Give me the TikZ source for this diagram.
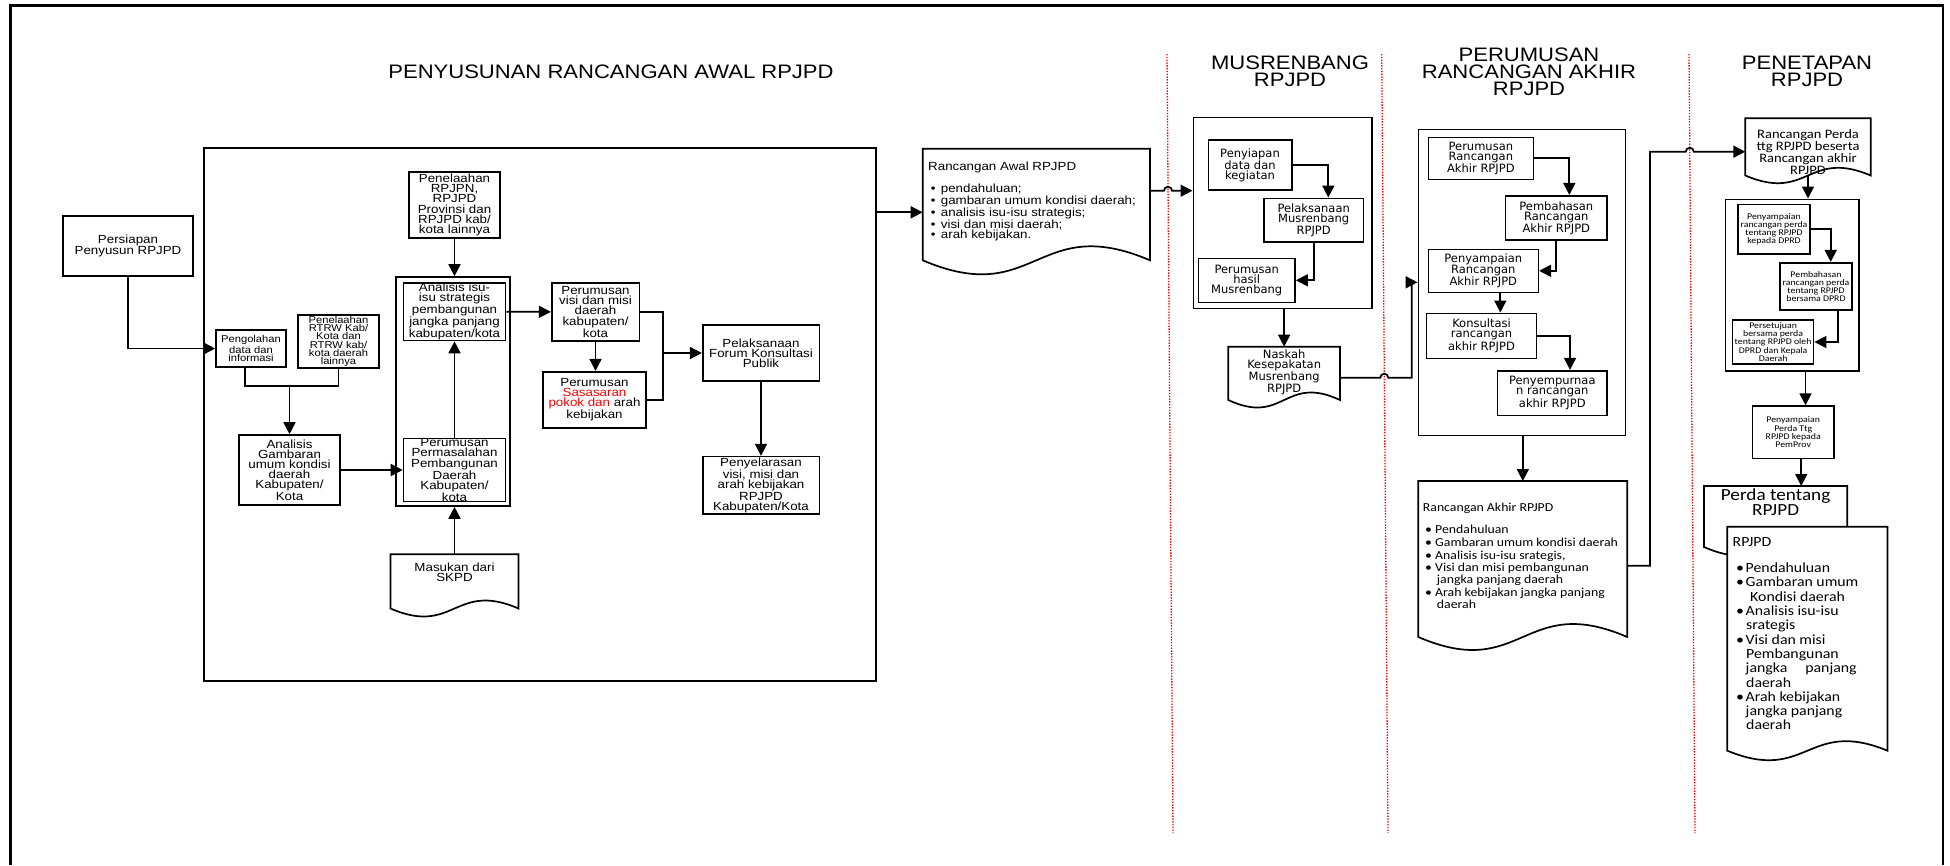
\documentclass[tikz,border=0pt]{standalone}
\usepackage{fontspec}
\newfontfamily\arialf[FakeStretch=1.13]{Liberation Sans}
\newfontfamily\verdf{DejaVu Sans}
\newfontfamily\calf[FakeStretch=1.13]{Carlito}
\usetikzlibrary{calc,arrows.meta}

% outline of a document shape around a named node
\newcommand{\dokumen}[3][]{%
  \draw[garis,#1] (#2.north west) -- (#2.north east) -- (#2.south east)
    .. controls ($(#2.south)+(0pt,#3)$) and ($(#2.south)+(0pt,-#3)$) .. (#2.south west) -- cycle;}

\tikzset{
  kotak/.style={draw, line width=1.6pt, align=center, inner sep=0pt},
  arial/.style={font=\arialf\fontsize{11.8pt}{10.2pt}\selectfont},
  arialkecil/.style={font=\arialf\fontsize{9.9pt}{8.3pt}\selectfont},
  verd/.style={font=\verdf\fontsize{11.5pt}{10pt}\selectfont},
  calkecil/.style={font=\calf\fontsize{8.7pt}{8.2pt}\selectfont},
  judul/.style={align=center, font=\arialf\fontsize{19.5pt}{17pt}\selectfont},
  docu/.style={inner sep=0pt, outer sep=0pt},
  isi/.style={inner sep=0pt, align=left},
  garis/.style={line width=1.7pt},
  panah/.style={garis, -{Triangle[length=12pt,width=12pt]}},
  titik/.style={red, line width=1.3pt, dash pattern=on 1.4pt off 1.4pt}
}

\begin{document}
\begin{tikzpicture}[x=1pt,y=-1pt]
\useasboundingbox (0,0) rectangle (1950,865);
\draw[line width=2.5pt] (10.5,865) -- (10.5,5.5) -- (1943,5.5) -- (1943,865);

% judul tahap
\node[judul] (j1) at (611,72) {PENYUSUNAN RANCANGAN AWAL RPJPD};
\node[judul] (j2) at (1290,71.7) {MUSRENBANG\\RPJPD};
\node[judul] (j3) at (1529,72) {PERUMUSAN\\RANCANGAN AKHIR\\RPJPD};
\node[judul] (j4) at (1807,71) {PENETAPAN\\RPJPD};

% batas tahap
\draw[titik] (1167,54) -- (1173,833);
\draw[titik] (1381.7,54) -- (1388,833);
\draw[titik] (1689,54) -- (1695,833);

% penyusunan rancangan awal
\node[kotak, minimum width=672pt, minimum height=533pt] (penyusunan) at (540,414.5) {};
\node[kotak, arial, minimum width=130pt, minimum height=60pt] (persiapan) at (128,246) {Persiapan\\Penyusun RPJPD};
\node[kotak, arial, minimum width=91pt, minimum height=66pt] (telaah) at (454.5,205) {Penelaahan\\RPJPN,\\RPJPD\\Provinsi dan\\RPJPD kab/\\kota lainnya};
\node[kotak, minimum width=114pt, minimum height=229pt] (grup) at (453,391.5) {};
\node[kotak, arial, minimum width=102pt, minimum height=57.5pt] (isu) at (454.5,311.75) {Analisis isu-\\isu strategis\\pembangunan\\jangka panjang\\kabupaten/kota};
\node[kotak, arial, minimum width=102pt, minimum height=62pt] (masalah) at (454.5,470) {Perumusan\\Permasalahan\\Pembangunan\\Daerah\\Kabupaten/\\kota};
\node[kotak, arialkecil, minimum width=70pt, minimum height=37pt] (olah) at (251,348.5) {Pengolahan\\data dan\\informasi};
\node[kotak, arialkecil, minimum width=81pt, minimum height=53pt] (rtrw) at (338.5,341.5) {Penelaahan\\RTRW Kab/\\Kota dan\\RTRW kab/\\kota daerah\\lainnya};
\node[kotak, arial, minimum width=101pt, minimum height=70pt] (gambaran) at (289.5,470) {Analisis\\Gambaran\\umum kondisi\\daerah\\Kabupaten/\\Kota};
\node[kotak, arial, minimum width=87.6pt, minimum height=57.7pt] (visi) at (595.5,311.85) {Perumusan\\visi dan misi\\daerah\\kabupaten/\\kota};
\node[kotak, arial, minimum width=103pt, minimum height=56pt] (sasaran) at (594.5,399.7) {Perumusan\\\textcolor{red}{Sasasaran}\\\textcolor{red}{pokok dan} arah\\kebijakan};
\node[kotak, arial, minimum width=116.6pt, minimum height=56pt] (forum) at (761,353) {Pelaksanaan\\Forum Konsultasi\\Publik};
\node[kotak, arial, minimum width=116.6pt, minimum height=57.3pt] (selaras) at (761,485.3) {Penyelarasan\\visi, misi dan\\arah kebijakan\\RPJPD\\Kabupaten/Kota};
\node[docu, minimum width=128pt, minimum height=54.2pt] (skpd) at (454.5,581.4) {};
\dokumen{skpd}{27.7pt}
\node[isi, align=center, arial, anchor=north] (skpd-isi) at ($(skpd.north)+(0pt,-8pt)$) {Masukan dari\\SKPD};

\draw[panah] (persiapan.south) |- (olah.west);
\coordinate (gabung) at (289.5,386);
\draw[garis] ([xshift=-6pt]olah.south) |- (gabung) -| (rtrw.south);
\draw[panah] (gabung) -- (gambaran.north);
\draw[panah] (telaah.south) -- (telaah.south |- grup.north);
\draw[panah] (gambaran.east) -- (masalah.west);
\draw[panah] (masalah.north) -- (isu.south);
\draw[panah] (skpd.north) -- (skpd.north |- grup.south);
\draw[panah] (isu.east) -- (visi.west);
\draw[panah] (visi.south) -- (visi.south |- sasaran.north);
\coordinate (cabang) at (662.7,353);
\draw[garis] (visi.east) -| (cabang) |- (sasaran.east);
\draw[panah] (cabang) -- (forum.west);
\draw[panah] (forum.south) -- (selaras.north);

% rancangan awal
\node[docu, minimum width=227.3pt, minimum height=111.6pt] (ra) at (1036.35,204.5) {};
\dokumen{ra}{48.5pt}
\node[isi, arial, anchor=north west] (ra-isi) at ($(ra.north west)+(5.3pt,-12.9pt)$) {Rancangan Awal RPJPD\\[10.2pt]
\hspace*{2.7pt}\makebox[10pt][l]{\textbullet}pendahuluan;\\
\hspace*{2.7pt}\makebox[10pt][l]{\textbullet}gambaran umum kondisi daerah;\\
\hspace*{2.7pt}\makebox[10pt][l]{\textbullet}analisis isu-isu strategis;\\
\hspace*{2.7pt}\makebox[10pt][l]{\textbullet}visi dan misi daerah;\\
\hspace*{2.7pt}\makebox[10pt][l]{\textbullet}arah kebijakan.};
\coordinate (k1) at (0,212.3);
\draw[panah] (penyusunan.east |- k1) -- (ra.west |- k1);

% musrenbang
\node[kotak, minimum width=178.7pt, minimum height=191pt] (musbox) at (1282.65,212.8) {};
\node[kotak, verd, minimum width=83.4pt, minimum height=50pt] (siap) at (1250,165) {Penyiapan\\data dan\\kegiatan};
\node[kotak, verd, minimum width=99.3pt, minimum height=43.4pt] (laksana) at (1313.7,220) {Pelaksanaan\\Musrenbang\\RPJPD};
\node[kotak, verd, minimum width=96.7pt, minimum height=44pt] (hasil) at (1246.7,280.3) {Perumusan\\hasil\\Musrenbang};
\node[docu, minimum width=111.7pt, minimum height=53.3pt] (naskah) at (1284.15,373.35) {};
\dokumen{naskah}{26pt}
\node[isi, align=center, verd, anchor=north] (naskah-isi) at ($(naskah.north)+(0pt,-2.8pt)$) {Naskah\\Kesepakatan\\Musrenbang\\RPJPD};

\coordinate (k2) at (0,190.7);
\coordinate (h1) at (1168,190.7);
\draw[panah] (ra.east |- k2) -- ($(h1)+(-4pt,0pt)$) arc[start angle=180, end angle=0, radius=4pt] -- (musbox.west |- k2);
\draw[panah] (siap.east) -| ([xshift=14.6pt]laksana.north);
\draw[panah] (laksana.south) |- (hasil.east);
\draw[panah] (naskah.north |- musbox.south) -- (naskah.north);

% perumusan rancangan akhir
\node[kotak, minimum width=207pt, minimum height=306pt] (akhirbox) at (1521.85,282.4) {};
\node[kotak, verd, minimum width=105pt, minimum height=42pt] (rumus) at (1480.85,158.3) {Perumusan\\Rancangan\\Akhir RPJPD};
\node[kotak, verd, minimum width=101.8pt, minimum height=44.3pt] (bahas) at (1556.3,217.85) {Pembahasan\\Rancangan\\Akhir RPJPD};
\node[kotak, verd, minimum width=110pt, minimum height=43pt] (sampai) at (1483.3,270.8) {Penyampaian\\Rancangan\\Akhir RPJPD};
\node[kotak, verd, minimum width=110pt, minimum height=45pt] (konsul) at (1481.5,335.8) {Konsultasi\\rancangan\\akhir RPJPD};
\node[kotak, verd, minimum width=109.5pt, minimum height=44.6pt] (sempurna) at (1552.3,393) {Penyempurnaa\\n rancangan\\akhir RPJPD};
\node[docu, minimum width=209pt, minimum height=156pt] (rakhir) at (1522.8,559) {};
\dokumen{rakhir}{45pt}
\node[isi, font=\calf\fontsize{12.2pt}{11.6pt}\selectfont, anchor=north west] (rakhir-isi) at ($(rakhir.north west)+(4.4pt,-22.1pt)$) {Rancangan Akhir RPJPD\\[10pt]
\hspace*{2.3pt}\makebox[10pt][l]{\textbullet}Pendahuluan\\[1.6pt]
\hspace*{2.3pt}\makebox[10pt][l]{\textbullet}Gambaran umum kondisi daerah\\[1.4pt]
\hspace*{2.3pt}\makebox[10pt][l]{\textbullet}Analisis isu-isu srategis,\\[0.4pt]
\hspace*{2.3pt}\makebox[10pt][l]{\textbullet}Visi dan misi pembangunan\\
\hspace*{14pt}jangka panjang daerah\\[1.8pt]
\hspace*{2.3pt}\makebox[10pt][l]{\textbullet}Arah kebijakan jangka panjang\\
\hspace*{14pt}daerah};

\coordinate (k3) at (0,377.7);
\coordinate (h2) at (1384.3,377.7);
\coordinate (b2) at (1411.7,282.3);
\draw[panah] (naskah.east |- k3) -- ($(h2)+(-4pt,0pt)$) arc[start angle=180, end angle=0, radius=4pt] -- (b2 |- k3) -- (b2) -- (akhirbox.west |- b2);
\draw[panah] (rumus.east) -| ([xshift=13pt]bahas.north);
\draw[panah] (bahas.south) |- (sampai.east);
\draw[panah] ([xshift=17pt]sampai.south) -- ([xshift=17pt]sampai.south |- konsul.north);
\draw[panah] (konsul.east) -| ([xshift=17.7pt]sempurna.north);
\draw[panah] (rakhir.north |- akhirbox.south) -- (rakhir.north);

% penetapan
\node[docu, minimum width=125.4pt, minimum height=57.2pt] (perdaR) at (1808,146.9) {};
\dokumen{perdaR}{26.7pt}
\node[isi, align=center, font=\calf\fontsize{12.9pt}{10.4pt}\selectfont, anchor=north] (perdaR-isi) at ($(perdaR.north)+(0pt,-10.8pt)$) {Rancangan Perda\\ttg RPJPD beserta\\Rancangan akhir\\RPJPD};
\node[kotak, minimum width=133.4pt, minimum height=171.7pt] (penbox) at (1792,285.15) {};
\node[kotak, calkecil, minimum width=72pt, minimum height=49.7pt] (sampaiP) at (1774,229.15) {Penyampaian\\rancangan perda\\tentang RPJPD\\kepada DPRD};
\node[kotak, calkecil, minimum width=72pt, minimum height=47.3pt] (bahasP) at (1816,286.35) {Pembahasan\\rancangan perda\\tentang RPJPD\\bersama DPRD};
\node[kotak, calkecil, minimum width=81pt, minimum height=44pt] (setuju) at (1773.1,342) {Persetujuan\\bersama perda\\tentang RPJPD oleh\\DPRD dan Kepala\\Daerah};
\node[kotak, calkecil, minimum width=81.3pt, minimum height=52.3pt] (pemprov) at (1793.2,432.2) {Penyampaian\\Perda Ttg\\RPJPD kepada\\PemProv};
\node[docu, minimum width=143.2pt, minimum height=61pt] (perdaB) at (1775.6,516.5) {};
\dokumen{perdaB}{31pt}
\node[isi, align=center, font=\calf\fontsize{17pt}{13.3pt}\selectfont, anchor=north] (perdaB-isi) at ($(perdaB.north)+(0pt,-2.8pt)$) {Perda tentang\\RPJPD};
\node[docu, minimum width=160.2pt, minimum height=224pt] (perdaF) at (1807.4,638.7) {};
\dokumen[fill=white]{perdaF}{33pt}
\node[isi, font=\calf\fontsize{14pt}{14.3pt}\selectfont, anchor=north west] (perdaF-isi) at ($(perdaF.north west)+(5.2pt,-10.5pt)$) {RPJPD\\[12pt]
\hspace*{3.5pt}\makebox[9.5pt][l]{\textbullet}Pendahuluan\\
\hspace*{3.5pt}\makebox[9.5pt][l]{\textbullet}Gambaran umum\\
\hspace*{17.5pt}Kondisi daerah\\
\hspace*{3.5pt}\makebox[9.5pt][l]{\textbullet}Analisis isu-isu\\
\hspace*{13.5pt}srategis\\
\hspace*{3.5pt}\makebox[9.5pt][l]{\textbullet}Visi dan misi\\
\hspace*{13.5pt}Pembangunan\\
\hspace*{13pt}jangka\hspace{18pt}panjang\\
\hspace*{13.5pt}daerah\\
\hspace*{3.5pt}\makebox[9.5pt][l]{\textbullet}Arah kebijakan\\
\hspace*{13pt}jangka panjang\\
\hspace*{13.5pt}daerah};

\coordinate (k5) at (0,565.7);
\coordinate (b5) at (1650,151.7);
\coordinate (h3) at (1689.75,151.7);
\draw[panah] (rakhir.east |- k5) -| (b5) -- ($(h3)+(-4pt,0pt)$) arc[start angle=180, end angle=0, radius=4pt] -- (perdaR.west |- b5);
\draw[panah] (perdaR.south) -- (perdaR.south |- penbox.north);
\draw[panah] (sampaiP.east) -| ([xshift=14.7pt]bahasP.north);
\draw[panah] ([xshift=22pt]bahasP.south) |- (setuju.east);
\draw[panah] ([xshift=13.5pt]penbox.south) -- ([xshift=13.5pt]penbox.south |- pemprov.north);
\draw[panah] ([xshift=8pt]pemprov.south) -- ([xshift=8pt]pemprov.south |- perdaB.north);
\end{tikzpicture}
\end{document}
